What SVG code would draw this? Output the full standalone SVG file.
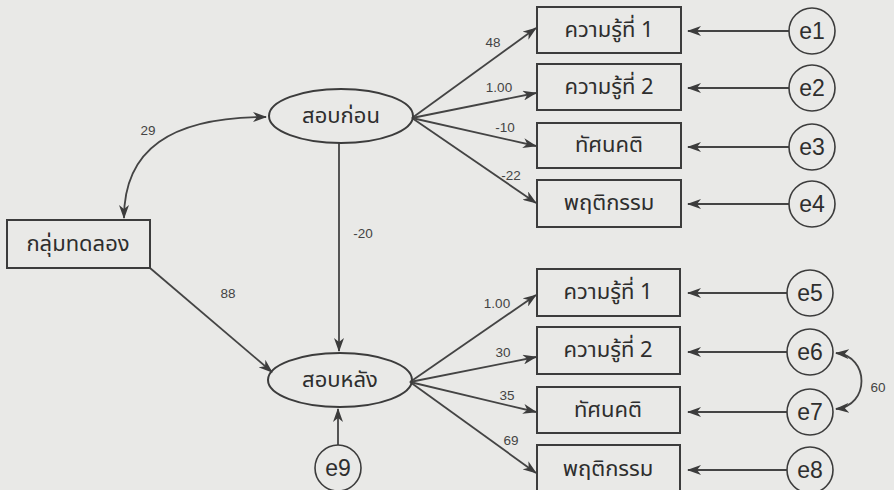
<svg xmlns="http://www.w3.org/2000/svg" width="894" height="490" viewBox="0 0 894 490">
<style>
.bg{fill:#e9e9e7}
.box{fill:none;stroke:#3c3c3c;stroke-width:2}
.ell{fill:none;stroke:#3c3c3c;stroke-width:2}
.cir{fill:none;stroke:#3c3c3c;stroke-width:1.6}
.lbl{font-family:"Noto Sans Thai","Noto Sans","DejaVu Sans",sans-serif;font-size:22px;fill:#2e2e2e;text-anchor:middle;dominant-baseline:central}
.el{font-family:"Liberation Sans",Arial,sans-serif;font-size:23px;fill:#2e2e2e;text-anchor:middle;dominant-baseline:central}
.num{font-family:"Liberation Sans",Arial,sans-serif;font-size:13.5px;fill:#444;text-anchor:middle}
.ln{fill:none;stroke:#444;stroke-width:1.8}
</style>
<defs>
<marker id="ah" viewBox="0 0 14 10" refX="13" refY="5" markerWidth="14" markerHeight="10" markerUnits="userSpaceOnUse" orient="auto-start-reverse">
<path d="M0,0 L14,5 L0,10 L4,5 Z" fill="#3c3c3c"/>
</marker>
</defs>
<rect class="bg" x="0" y="0" width="894" height="490"/>

<g id="connectors">
<path class="ln" d="M124,218 C124,150 170,117 266,117" marker-start="url(#ah)" marker-end="url(#ah)"/>
<path class="ln" d="M339,143 L339,351" marker-end="url(#ah)"/>
<path class="ln" d="M150,268 L272,372" marker-end="url(#ah)"/>
<path class="ln" d="M338,445 L338,409" marker-end="url(#ah)"/>
<path class="ln" d="M412,118 L536,28" marker-end="url(#ah)"/>
<path class="ln" d="M412,118 L536,93" marker-end="url(#ah)"/>
<path class="ln" d="M412,118 L536,146" marker-end="url(#ah)"/>
<path class="ln" d="M412,118 L536,203" marker-end="url(#ah)"/>
<path class="ln" d="M410,382 L536,295" marker-end="url(#ah)"/>
<path class="ln" d="M410,382 L536,357" marker-end="url(#ah)"/>
<path class="ln" d="M410,382 L536,412" marker-end="url(#ah)"/>
<path class="ln" d="M410,382 L536,473" marker-end="url(#ah)"/>
<path class="ln" d="M789,31 L688,31" marker-end="url(#ah)"/>
<path class="ln" d="M789,88 L688,88" marker-end="url(#ah)"/>
<path class="ln" d="M789,147 L688,147" marker-end="url(#ah)"/>
<path class="ln" d="M789,204 L688,204" marker-end="url(#ah)"/>
<path class="ln" d="M787,293 L688,293" marker-end="url(#ah)"/>
<path class="ln" d="M787,352 L688,352" marker-end="url(#ah)"/>
<path class="ln" d="M787,412 L688,412" marker-end="url(#ah)"/>
<path class="ln" d="M787,470 L688,470" marker-end="url(#ah)"/>
<path class="ln" d="M836,353 C870,356 870,406 836,409" marker-start="url(#ah)" marker-end="url(#ah)"/>
<text class="num" x="148" y="135">29</text>
<text class="num" x="363" y="238">-20</text>
<text class="num" x="228" y="298">88</text>
<text class="num" x="493" y="47">48</text>
<text class="num" x="499" y="92">1.00</text>
<text class="num" x="505" y="132">-10</text>
<text class="num" x="511" y="180">-22</text>
<text class="num" x="497" y="308">1.00</text>
<text class="num" x="503" y="357">30</text>
<text class="num" x="507" y="400">35</text>
<text class="num" x="511" y="445">69</text>
<text class="num" x="878" y="392">60</text>
</g>

<g id="pretest"><ellipse class="ell" cx="341" cy="116" rx="72" ry="27"/><text class="lbl" x="341" y="116">สอบก่อน</text></g>
<g id="posttest"><ellipse class="ell" cx="340" cy="380" rx="72" ry="27"/><text class="lbl" x="340" y="380">สอบหลัง</text></g>
<g id="group"><rect class="box" x="7" y="220" width="143" height="48"/><text class="lbl" x="78" y="244">กลุ่มทดลอง</text></g>

<g id="k1a"><rect class="box" x="537" y="7" width="144" height="46"/><text class="lbl" x="609" y="30">ความรู้ที่ 1</text></g>
<g id="k2a"><rect class="box" x="537" y="64" width="144" height="46"/><text class="lbl" x="609" y="87">ความรู้ที่ 2</text></g>
<g id="atta"><rect class="box" x="537" y="123" width="144" height="45"/><text class="lbl" x="609" y="145">ทัศนคติ</text></g>
<g id="beha"><rect class="box" x="537" y="180" width="144" height="47"/><text class="lbl" x="609" y="203">พฤติกรรม</text></g>

<g id="k1b"><rect class="box" x="537" y="269" width="143" height="47"/><text class="lbl" x="608" y="292">ความรู้ที่ 1</text></g>
<g id="k2b"><rect class="box" x="537" y="327" width="143" height="47"/><text class="lbl" x="608" y="350">ความรู้ที่ 2</text></g>
<g id="attb"><rect class="box" x="537" y="387" width="143" height="46"/><text class="lbl" x="608" y="410">ทัศนคติ</text></g>
<g id="behb"><rect class="box" x="537" y="445" width="143" height="48"/><text class="lbl" x="608" y="469">พฤติกรรม</text></g>

<g id="e1"><circle class="cir" cx="812" cy="31" r="23"/><text class="el" x="812" y="31">e1</text></g>
<g id="e2"><circle class="cir" cx="812" cy="88" r="23"/><text class="el" x="812" y="88">e2</text></g>
<g id="e3"><circle class="cir" cx="812" cy="147" r="23"/><text class="el" x="812" y="147">e3</text></g>
<g id="e4"><circle class="cir" cx="812" cy="204" r="23"/><text class="el" x="812" y="204">e4</text></g>
<g id="e5"><circle class="cir" cx="810" cy="293" r="23"/><text class="el" x="810" y="293">e5</text></g>
<g id="e6"><circle class="cir" cx="810" cy="352" r="23"/><text class="el" x="810" y="352">e6</text></g>
<g id="e7"><circle class="cir" cx="810" cy="412" r="23"/><text class="el" x="810" y="412">e7</text></g>
<g id="e8"><circle class="cir" cx="810" cy="470" r="23"/><text class="el" x="810" y="470">e8</text></g>
<g id="e9"><circle class="cir" cx="338" cy="468" r="23"/><text class="el" x="338" y="468">e9</text></g>
</svg>
